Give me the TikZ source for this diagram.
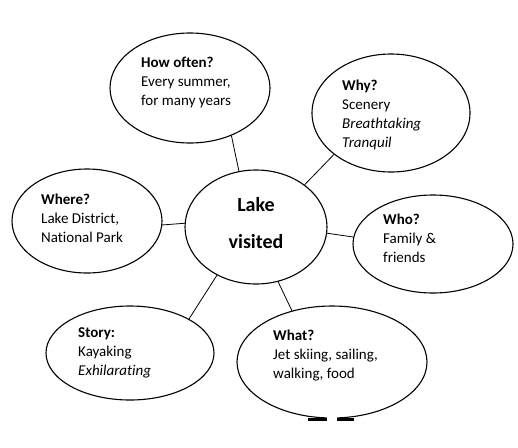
\documentclass[tikz,border=0pt]{standalone}
\usepackage{fontspec}
\setmainfont{Carlito}[Ligatures=NoCommon]
\usetikzlibrary{shapes.geometric}
\begin{document}
\begin{tikzpicture}[x=1pt,y=-1pt,line join=round,line cap=round,
  bubble/.style={draw,ellipse,line width=1.1pt,inner sep=0pt},
  txt/.style={anchor=north west,align=left,inner sep=0pt,font=\fontsize{15}{19}\selectfont},
  hub/.style={anchor=base,inner sep=0pt,font=\bfseries\fontsize{20}{22}\selectfont}]
\useasboundingbox (0,0) rectangle (518,447);
% bubbles
\node[bubble,minimum width=142,minimum height=114] (lake) at (256,227) {};
\node[bubble,minimum width=160,minimum height=110] (how) at (190,88) {};
\node[bubble,minimum width=158,minimum height=118] (why) at (391,113) {};
\node[bubble,minimum width=150,minimum height=104] (where) at (87,221) {};
\node[bubble,minimum width=160,minimum height=98] (who) at (433,244) {};
\node[bubble,minimum width=168,minimum height=94] (story) at (130,353) {};
\node[bubble,minimum width=190,minimum height=112] (what) at (332,362) {};
% cut at the foot of the last bubble
\fill[white] (327,414) rectangle (337,424);
\draw[line width=3pt,line cap=butt] (308,419) -- (327,419) (337,419) -- (354,419);
% texts
\node[hub] (laketxt) at (256,211) {Lake};
\node[hub] (visitedtxt) at (256,248) {visited};
\node[txt] (howtxt) at (141,57) {\textbf{How often?}\\Every summer,\\for many years};
\node[txt] (whytxt) at (342,80) {\textbf{Why?}\\Scenery\\\textit{Breathtaking}\\\textit{Tranquil}};
\node[txt] (wheretxt) at (41,194) {\textbf{Where?}\\Lake District,\\National Park};
\node[txt] (whotxt) at (383,214) {\textbf{Who?}\\Family \&\\friends};
\node[txt] (storytxt) at (78,327) {\textbf{Story:}\\Kayaking\\\textit{Exhilarating}};
\node[txt] (whattxt) at (273,330) {\textbf{What?}\\Jet skiing, sailing,\\walking, food};
% spokes
\foreach \n/\a/\b in {how/-49/107,why/216/41,where/-3/177,who/175/-5,story/30/231,what/128/-68}
  \draw[line width=0.8pt] (\n.\a) -- (lake.\b);
\end{tikzpicture}
\end{document}
